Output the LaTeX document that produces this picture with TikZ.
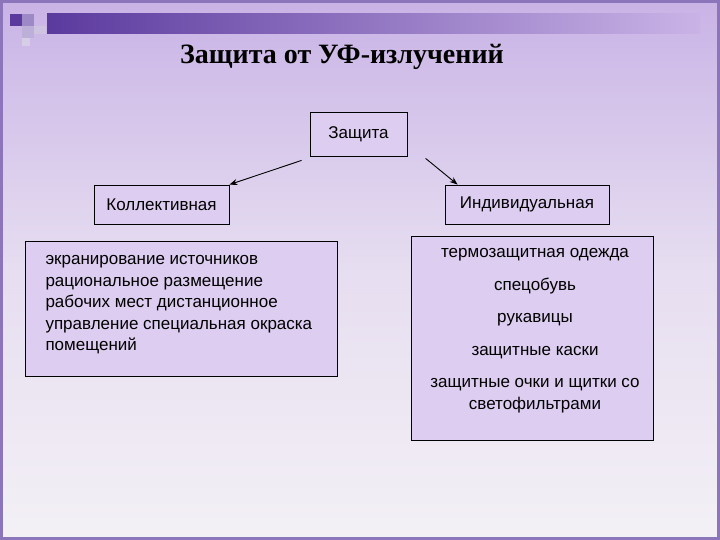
\documentclass[tikz,border=0pt]{standalone}
\usepackage{fontspec}
\setmainfont{Liberation Sans}
\newfontfamily\titlefont{Liberation Serif}
\usetikzlibrary{arrows.meta}
\definecolor{bgtop}{HTML}{C9B3E6}
\definecolor{bgbot}{HTML}{F3F0F5}
\definecolor{boxfill}{HTML}{DDCDF0}
\definecolor{deep}{HTML}{5B3A9E}
\begin{document}
\begin{tikzpicture}[x=1pt,y=-1pt,
  box/.style={draw=black,line width=0.8pt,fill=boxfill,font=\fontsize{17}{20}\selectfont},
  txt/.style={font=\fontsize{17}{21.5}\selectfont},
  arr/.style={-{Stealth[length=8pt,width=6pt]},line width=0.9pt}]
\useasboundingbox (0,0) rectangle (720,540);
\shade[top color=bgtop,bottom color=bgbot,middle color=bgbot!70!bgtop] (0,0) rectangle (720,540);
\draw[deep!70,line width=3pt] (1.5,1.5) rectangle (718.5,538.5);
\shade[left color=deep,right color=bgtop] (47,14) rectangle (700,34);
\fill[deep] (10,14) rectangle (22,26);
\fill[deep!60] (22,14) rectangle (34,26);
\fill[deep!40] (22,26) rectangle (34,38);
\fill[deep!30] (34,26) rectangle (46,34);
\fill[deep!25] (22,38) rectangle (30,46);
\node[font=\titlefont\bfseries\fontsize{28}{32}\selectfont] (title) at (342,57) {Защита от УФ-излучений};
\node[box,minimum width=97pt,minimum height=44pt] (z) at (358.5,134) {Защита};
\node[box,minimum width=135pt,minimum height=39pt] (k) at (161.5,204.5) {Коллективная};
\node[box,minimum width=164pt,minimum height=39pt] (i) at (527,204.5) {Индивидуальная};
\node[box,minimum width=312pt,minimum height=135pt] (l) at (181,308.5) {};
\node[txt,align=left,anchor=north west] (lt) at (42,252)
 {экранирование источников\\рациональное размещение\\рабочих мест дистанционное\\управление специальная окраска\\помещений};
\node[box,minimum width=242pt,minimum height=204pt] (r) at (532,338) {};
\node[txt,align=center,anchor=north] (rt) at (535,245)
 {термозащитная одежда\\[11pt]спецобувь\\[11pt]рукавицы\\[11pt]защитные каски\\[11pt]защитные очки и щитки со\\светофильтрами};
\coordinate (a1) at ([shift={(-8,4)}]z.south west);
\coordinate (a2) at ([shift={(116,2)}]z.south west);
\draw[arr] (a1) -- (k.north east);
\draw[arr] (a2) -- ([shift={(13,0)}]i.north west);
\end{tikzpicture}
\end{document}
